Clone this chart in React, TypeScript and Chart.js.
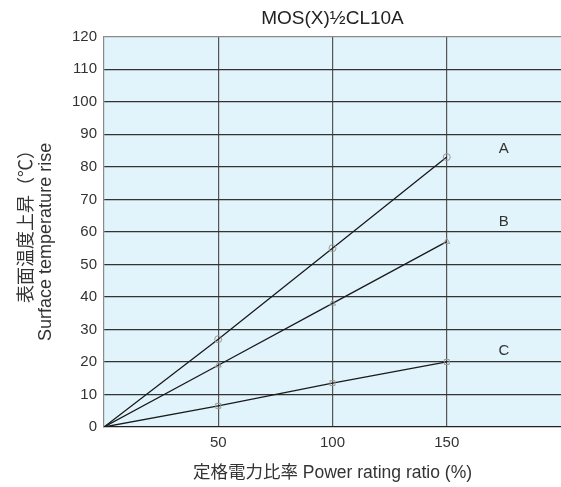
import React, { useEffect, useRef } from "react";
import { Chart, registerables } from "chart.js";

Chart.register(...registerables);

const titleText = "MOS(X)½CL10A";
const xValues = [0, 50, 100, 150];
const seriesA = [0, 27, 55, 83];
const seriesB = [0, 19, 38, 57];
const seriesC = [0, 6.5, 13.5, 20];
const seriesNames = ["A", "B", "C"];
const labelX = 175;
const labelY = [85.5, 63, 23.5];
const yTitle = ["    表面温度上昇（℃）", "Surface temperature rise    "];
const xTitle = "定格電力比率 Power rating ratio (%)";

const FONT = "'Liberation Sans', 'Noto Sans CJK JP', Arial, sans-serif";

export default function App() {
  const ref = useRef<HTMLCanvasElement | null>(null);
  useEffect(() => {
    document.body.style.margin = "0";
    const canvas = ref.current;
    if (!canvas) return;
    const bgPlugin = {
      id: "bg",
      beforeDraw(chart: any) {
        const { ctx, chartArea } = chart;
        ctx.save();
        ctx.fillStyle = "#e1f3fb";
        ctx.fillRect(chartArea.left, chartArea.top, chartArea.right - chartArea.left, chartArea.bottom - chartArea.top);
        ctx.restore();
      },
    };
    const labelPlugin = {
      id: "seriesLabels",
      afterDatasetsDraw(chart: any) {
        const { ctx, scales } = chart;
        ctx.save();
        ctx.fillStyle = "#333";
        ctx.font = "15px " + FONT;
        ctx.textAlign = "center";
        ctx.textBaseline = "middle";
        seriesNames.forEach((n, i) => {
          ctx.fillText(n, scales.x.getPixelForValue(labelX), scales.y.getPixelForValue(labelY[i]));
        });
        ctx.restore();
      },
    };
    const mk = (data: number[], style: string) => ({
      data: xValues.map((x, i) => ({ x, y: data[i] })),
      borderColor: "#1a1a1a",
      borderWidth: 1.3,
      pointStyle: style,
      pointRadius: [0, 3.5, 3.5, 3.5],
      pointBorderColor: "#999",
      pointBackgroundColor: "rgba(0,0,0,0)",
      pointBorderWidth: 1,
      tension: 0,
    });
    const chart = new Chart(canvas, {
      type: "line",
      data: {
        datasets: [mk(seriesA, "circle"), mk(seriesB, "triangle"), mk(seriesC, "rect")],
      },
      plugins: [bgPlugin, labelPlugin],
      options: {
        animation: false,
        responsive: false,
        layout: { autoPadding: false, padding: 0 },
        plugins: {
          legend: { display: false },
          tooltip: { enabled: false },
          title: {
            display: true,
            fullSize: false,
            text: titleText,
            color: "#222",
            font: { family: FONT, size: 19, weight: "normal", lineHeight: 1.2 },
            padding: { top: 7, bottom: 7 },
          },
        },
        scales: {
          x: {
            type: "linear",
            min: 0,
            max: 200,
            afterFit(scale: any) {
              scale.height = 60;
              scale.paddingLeft = 0;
              scale.paddingRight = 0;
            },
            ticks: {
              stepSize: 50,
              color: "#333",
              padding: 7,
              maxRotation: 0,
              font: { family: FONT, size: 15 },
              callback: (v: any) => (v === 0 || v === 200 ? "" : String(v)),
            },
            grid: {
              drawTicks: false,
              color: (c: any) => (c.tick && (c.tick.value === 0 || c.tick.value === 200) ? "rgba(0,0,0,0)" : "#555"),
              lineWidth: 1.2,
            },
            border: { color: "#222", width: 1.2 },
            title: {
              display: true,
              text: xTitle,
              color: "#333",
              font: { family: FONT, size: 17.5 },
              padding: { top: 0, bottom: 3 },
            },
          },
          y: {
            type: "linear",
            min: 0,
            max: 120,
            afterFit(scale: any) {
              scale.width = 104;
            },
            ticks: {
              stepSize: 10,
              color: "#333",
              padding: 7,
              font: { family: FONT, size: 15 },
            },
            grid: {
              drawTicks: false,
              color: (c: any) => {
                const v = c.tick ? c.tick.value : -1;
                if (v === 0) return "rgba(0,0,0,0)";
                if (v === 120) return "#8a8a8a";
                return "#333";
              },
              lineWidth: 1.2,
            },
            border: { color: "#8a8a8a", width: 1.2 },
            title: {
              display: true,
              text: yTitle,
              color: "#333",
              font: { family: FONT, size: 18, lineHeight: 1.05 },
              padding: { top: 18, bottom: 0 },
            },
          },
        },
      },
    });
    return () => chart.destroy();
  }, []);
  return (
    <div style={{ width: 561, height: 487 }}>
      <canvas ref={ref} width={561} height={487} style={{ display: "block" }} />
    </div>
  );
}
